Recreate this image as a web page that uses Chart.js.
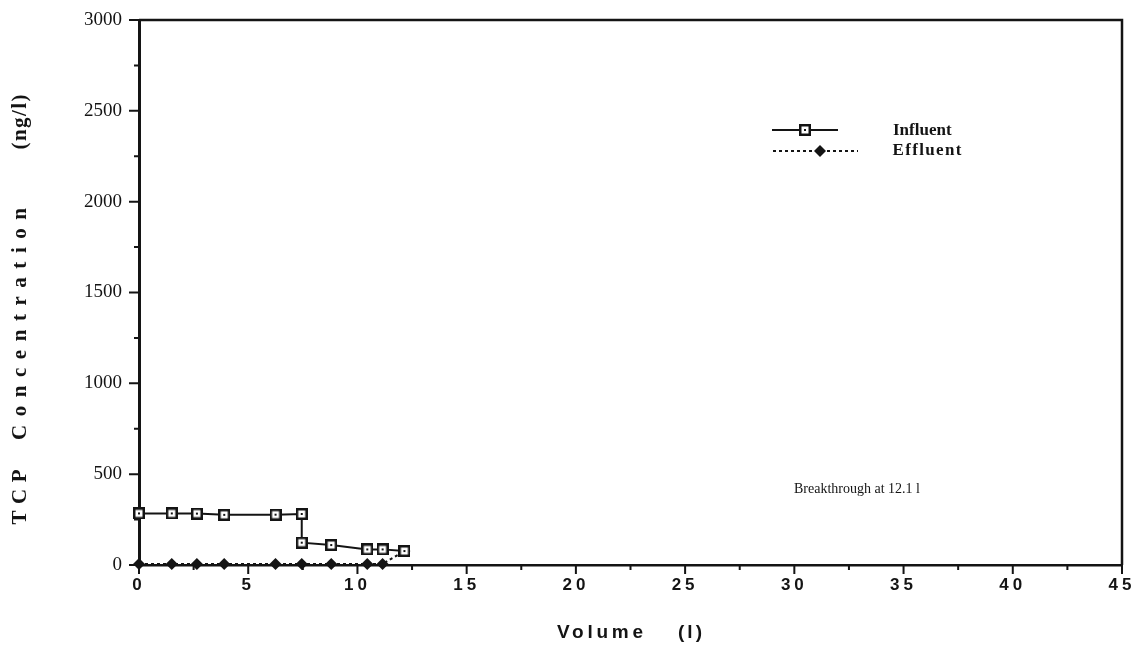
<!DOCTYPE html>
<html>
<head>
<meta charset="utf-8">
<script src="https://cdn.jsdelivr.net/npm/chart.js@4"></script>
<style>
  html, body { margin: 0; padding: 0; background: #fff; }
</style>
</head>
<body>
<canvas id="chart" width="1134" height="648"></canvas>
<script>
// --- DATA ---
const influentVolume = [0, 1.5, 2.65, 3.9, 6.25, 7.45, 7.45, 8.8, 10.45, 11.15, 12.15];
const influentConc   = [284, 284, 283, 276, 277, 281, 123, 110, 86, 86, 77];
const effluentVolume = [0, 1.5, 2.65, 3.9, 6.25, 7.45, 8.8, 10.45, 11.15, 12.15];
const effluentConc   = [6, 6, 6, 6, 6, 6, 6, 6, 6, 77];
const xMax = 45, xStep = 2.5, xLabelStep = 5;
const yMax = 3000, yStep = 250, yLabelStep = 500;

const INK = "#141414";

// open square with a small dot in the middle
function squareMarker() {
    const c = document.createElement("canvas");
    c.width = 12; c.height = 12;
    const g = c.getContext("2d");
    g.fillStyle = INK; g.fillRect(0, 0, 12, 12);
    g.fillStyle = "#fff"; g.fillRect(2.5, 2.5, 7, 7);
    g.fillStyle = INK; g.fillRect(5, 5, 2, 2);
    return c;
}
const sqMark = squareMarker();

function toPoints(xs, ys) {
    return xs.map((x, i) => ({ x: x, y: ys[i] }));
}

// draw text stretched to a given length by letter spacing
function spacedText(ctx, text, cx, cy, len) {
    ctx.letterSpacing = "0px";
    const w0 = ctx.measureText(text).width;
    const sp = text.length > 1 ? Math.max(0, (len - w0) / (text.length - 1)) : 0;
    ctx.letterSpacing = sp + "px";
    ctx.textAlign = "left";
    ctx.textBaseline = "middle";
    ctx.fillText(text, cx - len / 2, cy);
    ctx.letterSpacing = "0px";
}

function noPad(s) {
    s.paddingTop = s.paddingBottom = s.paddingLeft = s.paddingRight = 0;
}

// --- decorations: frame, tick marks, titles, legend, note ---
const decor = {
    id: "decor",
    afterDatasetsDraw(chart) {
        // x tick labels (z = 1) are drawn after this, spaced out like the original
        chart.ctx.letterSpacing = "4px";
    },
    afterDraw(chart) {
        const ctx = chart.ctx;
        ctx.letterSpacing = "0px";
        const a = chart.chartArea, xs = chart.scales.x, ys = chart.scales.y;
        ctx.save();
        ctx.strokeStyle = INK;
        ctx.fillStyle = INK;

        // top and right frame
        ctx.lineWidth = 2.5;
        ctx.beginPath();
        ctx.moveTo(a.left, a.top);
        ctx.lineTo(a.right, a.top);
        ctx.lineTo(a.right, a.bottom);
        ctx.stroke();

        // tick marks
        ctx.lineWidth = 2;
        ctx.beginPath();
        for (let v = 0; v <= xMax + 1e-9; v += xStep) {
            const px = xs.getPixelForValue(v);
            const len = Math.abs(v % xLabelStep) < 1e-9 ? 9 : 5;
            ctx.moveTo(px, a.bottom);
            ctx.lineTo(px, a.bottom + len);
        }
        for (let v = 0; v <= yMax + 1e-9; v += yStep) {
            const py = ys.getPixelForValue(v);
            const len = v % yLabelStep === 0 ? 10 : 5;
            ctx.moveTo(a.left, py);
            ctx.lineTo(a.left - len, py);
        }
        ctx.stroke();

        // y title
        ctx.save();
        ctx.translate(21, 0);
        ctx.rotate(-Math.PI / 2);
        ctx.font = "bold 21px 'Liberation Serif'";
        spacedText(ctx, "TCP", -497, 0, 55);
        spacedText(ctx, "Concentration", -324, 0, 232);
        spacedText(ctx, "(ng/l)", -122, 0, 55);
        ctx.restore();

        // x title
        ctx.font = "bold 19px 'Liberation Sans'";
        spacedText(ctx, "Volume", 600, 633, 86);
        spacedText(ctx, "(l)", 690, 633, 24);

        // legend
        ctx.lineWidth = 2;
        ctx.beginPath();
        ctx.moveTo(772, 130);
        ctx.lineTo(838, 130);
        ctx.stroke();
        ctx.drawImage(sqMark, 805 - 6, 130 - 6);

        ctx.setLineDash([3, 3]);
        ctx.beginPath();
        ctx.moveTo(773, 151);
        ctx.lineTo(858, 151);
        ctx.stroke();
        ctx.setLineDash([]);
        ctx.beginPath();
        ctx.moveTo(820, 145); ctx.lineTo(826, 151); ctx.lineTo(820, 157); ctx.lineTo(814, 151);
        ctx.closePath();
        ctx.fill();

        ctx.font = "bold 17px 'Liberation Serif'";
        spacedText(ctx, "Influent", 921, 131, 56);
        spacedText(ctx, "Effluent", 927, 151, 69);

        // note
        ctx.font = "14px 'Liberation Serif'";
        spacedText(ctx, "Breakthrough at 12.1 l", 857, 489, 126);

        ctx.restore();
    }
};

new Chart(document.getElementById("chart"), {
    type: "line",
    data: {
        datasets: [
            {
                label: "Influent",
                data: toPoints(influentVolume, influentConc),
                borderColor: INK,
                borderWidth: 2,
                pointStyle: sqMark,
                pointRadius: 6,
                clip: false,
                tension: 0
            },
            {
                label: "Effluent",
                data: toPoints(effluentVolume, effluentConc),
                borderColor: INK,
                borderWidth: 2,
                borderDash: [3, 3],
                pointStyle: "rectRot",
                pointRadius: 6,
                pointBackgroundColor: INK,
                pointBorderColor: INK,
                pointBorderWidth: 0,
                clip: false,
                tension: 0
            }
        ]
    },
    options: {
        responsive: false,
        animation: false,
        devicePixelRatio: 1,
        layout: { padding: { top: 20, right: 12, left: 0, bottom: 0 }, autoPadding: false },
        plugins: { legend: { display: false }, tooltip: { enabled: false } },
        scales: {
            x: {
                type: "linear",
                min: 0, max: xMax,
                afterFit: s => { s.height = 83; noPad(s); },
                grid: { display: false, drawTicks: false },
                border: { display: true, color: INK, width: 2.5 },
                ticks: {
                    z: 1,
                    stepSize: xStep,
                    autoSkip: false,
                    maxRotation: 0,
                    padding: 10,
                    color: INK,
                    font: { family: "'Liberation Sans'", size: 17, weight: "bold" },
                    callback: v => (Math.abs(v % xLabelStep) < 1e-9 ? v : "")
                }
            },
            y: {
                min: 0, max: yMax,
                afterFit: s => { s.width = 139; noPad(s); },
                grid: { display: false, drawTicks: false },
                border: { display: true, color: INK, width: 3 },
                ticks: {
                    stepSize: yStep,
                    autoSkip: false,
                    padding: 17,
                    color: INK,
                    font: { family: "'Liberation Serif'", size: 19 },
                    callback: v => (v % yLabelStep === 0 ? v : "")
                }
            }
        }
    },
    plugins: [decor]
});
</script>
</body>
</html>
